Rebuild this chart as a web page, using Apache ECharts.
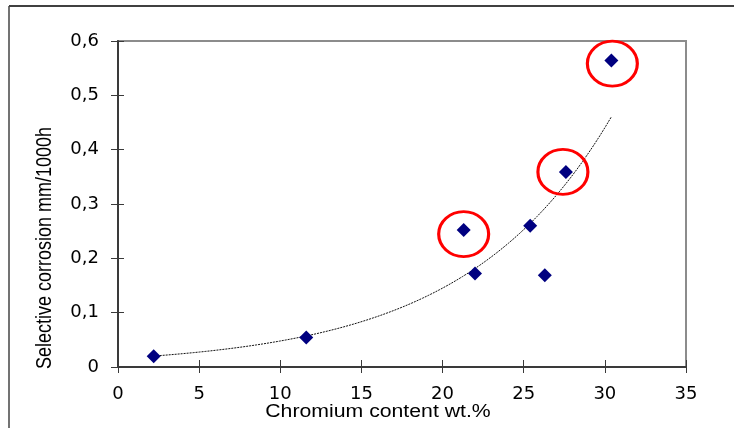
<!DOCTYPE html>
<html>
<head>
<meta charset="utf-8">
<script src="https://cdn.jsdelivr.net/npm/echarts@6/dist/echarts.min.js"></script>
<style>html,body{margin:0;padding:0;background:#fff}#c{width:734px;height:428px}</style>
</head>
<body>
<div id="c"></div>
<script>
// Data
var chromium = [2.2, 11.6, 21.3, 22.0, 25.4, 26.3, 27.6, 30.4];
var corrosion = [0.020, 0.0545, 0.252, 0.172, 0.260, 0.169, 0.359, 0.564];
var circledIdx = [2, 6, 7];
var xTicks = [0, 5, 10, 15, 20, 25, 30, 35];
var yTicks = [0, 0.1, 0.2, 0.3, 0.4, 0.5, 0.6];
var xTitle = 'Chromium content wt.%';
var yTitle = 'Selective corrosion mm/1000h';

// Exponential trendline (least squares on ln y), as the spreadsheet does
var n = chromium.length, mx = 0, my = 0;
for (var i = 0; i < n; i++) { mx += chromium[i]; my += Math.log(corrosion[i]); }
mx /= n; my /= n;
var sxy = 0, sxx = 0;
for (i = 0; i < n; i++) { sxy += (chromium[i] - mx) * (Math.log(corrosion[i]) - my); sxx += (chromium[i] - mx) * (chromium[i] - mx); }
var b = sxy / sxx, lnA = my - b * mx;
var xmin = Math.min.apply(null, chromium), xmax = Math.max.apply(null, chromium);
var trend = [];
for (i = 0; i <= 80; i++) { var x = xmin + (xmax - xmin) * i / 80; trend.push([x, Math.exp(lnA + b * x)]); }

var points = chromium.map(function (x, k) { return [x, corrosion[k]]; });
var circleOffsets = [[0, 4], [-3, 0], [1, 3]];
var circled = circledIdx.map(function (k, j) {
  return { value: [chromium[k], corrosion[k]], symbolOffset: circleOffsets[j] };
});

var font = "'Liberation Sans', Arial, sans-serif";
var tickFont = "'DejaVu Sans', sans-serif";
var chart = echarts.init(document.getElementById('c'));
chart.setOption({
  animation: false,
  grid: { left: 118, right: 48, top: 41, bottom: 61, show: true, borderColor: '#8c8c8c', borderWidth: 2, backgroundColor: '#fff' },
  xAxis: [{
    type: 'value', min: xTicks[0], max: xTicks[xTicks.length - 1], interval: 5,
    splitLine: { show: false },
    axisLine: { lineStyle: { color: '#3a3a3a', width: 2 } },
    axisTick: { length: 6, lineStyle: { color: '#3a3a3a', width: 1 } },
    axisLabel: { margin: 18, color: '#000', fontSize: 18, fontFamily: tickFont }
  }, {
    type: 'value', min: xTicks[0], max: xTicks[xTicks.length - 1], interval: 5, position: 'bottom',
    splitLine: { show: false }, axisLine: { show: false }, axisLabel: { show: false },
    axisTick: { inside: true, length: 7, lineStyle: { color: '#3a3a3a', width: 1 } }
  }],
  yAxis: [{
    type: 'value', min: yTicks[0], max: yTicks[yTicks.length - 1], interval: 0.1,
    splitLine: { show: false },
    axisLine: { show: true, lineStyle: { color: '#3a3a3a', width: 2 } },
    axisTick: { show: true, length: 7, lineStyle: { color: '#3a3a3a', width: 1 } },
    axisLabel: { margin: 19, color: '#000', fontSize: 18, fontFamily: tickFont,
      formatter: function (v) { return (Math.round(v * 10) / 10).toString().replace('.', ','); } }
  }, {
    type: 'value', min: yTicks[0], max: yTicks[yTicks.length - 1], interval: 0.1, position: 'left',
    splitLine: { show: false }, axisLine: { show: false }, axisLabel: { show: false },
    axisTick: { show: true, inside: true, length: 6, lineStyle: { color: '#3a3a3a', width: 1 } }
  }],
  graphic: [
    { type: 'line', shape: { x1: 9, y1: 6, x2: 734, y2: 6 }, style: { stroke: '#000', lineWidth: 1.5 } },
    { type: 'line', shape: { x1: 9, y1: 6, x2: 9, y2: 428 }, style: { stroke: '#444', lineWidth: 1.5 } },
    { type: 'text', x: 378, y: 412, scaleX: 1.18, style: { text: xTitle, fill: '#000', font: '18px ' + font, textAlign: 'center', textVerticalAlign: 'middle' } },
    { type: 'text', x: 45, y: 248, rotation: Math.PI / 2, scaleY: 1.18, style: { text: yTitle, fill: '#000', font: '18px ' + font, textAlign: 'center', textVerticalAlign: 'middle' } }
  ],
  series: [
    { type: 'line', data: trend, showSymbol: false, symbol: 'none', lineStyle: { color: '#111', width: 1, type: [2, 1] }, z: 2 },
    { type: 'scatter', data: points, symbol: 'diamond', symbolSize: 14, itemStyle: { color: '#000080', opacity: 1 }, z: 3 },
    { type: 'scatter', data: circled, symbol: 'circle', symbolSize: [50, 45], itemStyle: { color: 'rgba(0,0,0,0)', borderColor: '#ff0000', borderWidth: 3, opacity: 1 }, z: 4 }
  ]
});
</script>
</body>
</html>
